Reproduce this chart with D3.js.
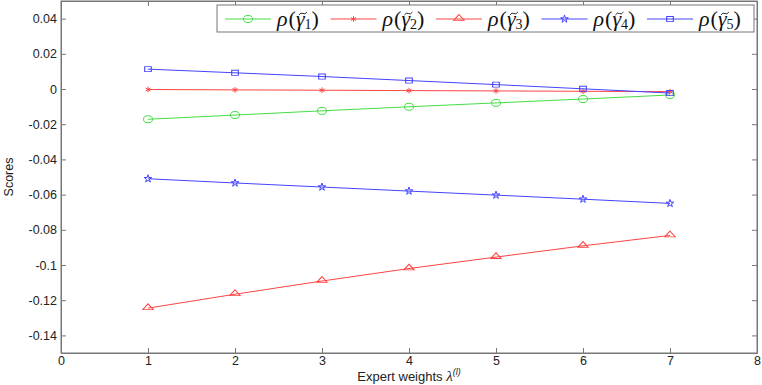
<!DOCTYPE html>
<html>
<head>
<meta charset="utf-8">
<script src="https://cdnjs.cloudflare.com/ajax/libs/d3/7.8.5/d3.min.js"></script>
<style>
  body { margin: 0; background: #fff; }
  svg { display: block; }
  .axis text { font-family: "Liberation Sans", Arial, sans-serif; font-size: 12.5px; fill: #222; }
  .axis path, .axis line { stroke: #777; }
</style>
</head>
<body>
<svg id="chart"></svg>
<script>
// expert weight index on the x axis
const weights = [1, 2, 3, 4, 5, 6, 7];

// scores, one array per alternative
const rho1 = [-0.0172, -0.0148, -0.0124, -0.0101, -0.0079, -0.0057, -0.0034];
const rho2 = [-0.0003, -0.0005, -0.0007, -0.0009, -0.0011, -0.0013, -0.0015];
const rho3 = [-0.1245, -0.1166, -0.1091, -0.1020, -0.0955, -0.0891, -0.0832];
const rho4 = [-0.0510, -0.0534, -0.0557, -0.0580, -0.0603, -0.0626, -0.0650];
const rho5 = [0.0113, 0.0092, 0.0071, 0.0048, 0.0025, 0.0001, -0.0023];

const seriesNames = ["1", "2", "3", "4", "5"];
const xTicks = [0, 1, 2, 3, 4, 5, 6, 7, 8];
const yTicks = [0.04, 0.02, 0, -0.02, -0.04, -0.06, -0.08, -0.1, -0.12, -0.14];

const config = {
    width: 762,
    height: 385,
    margin: {top: 1, right: 5, bottom: 32, left: 61}
};

const series = [
    {name: seriesNames[0], values: rho1, color: "#44dd44", marker: "circle"},
    {name: seriesNames[1], values: rho2, color: "#ff4444", marker: "asterisk"},
    {name: seriesNames[2], values: rho3, color: "#ff4444", marker: "triangle"},
    {name: seriesNames[3], values: rho4, color: "#4444ff", marker: "star"},
    {name: seriesNames[4], values: rho5, color: "#4444ff", marker: "square"}
];

const innerW = config.width - config.margin.left - config.margin.right;
const innerH = config.height - config.margin.top - config.margin.bottom;

const svg = d3.select("#chart")
    .attr("width", config.width)
    .attr("height", config.height);

const chart = svg.append("g")
    .attr("transform", `translate(${config.margin.left},${config.margin.top})`);

const xScale = d3.scaleLinear().domain([0, 8]).range([0, innerW]);
const yScale = d3.scaleLinear().domain([-0.15, 0.05]).range([innerH, 0]);

const fmt = d => String(+d.toFixed(2));

// axes, ticks pointing inward like matlab
chart.append("g").attr("class", "axis")
    .attr("transform", `translate(0,${innerH})`)
    .call(d3.axisBottom(xScale).tickValues(xTicks).tickSizeInner(-5).tickSizeOuter(0).tickPadding(3));
chart.append("g").attr("class", "axis")
    .call(d3.axisTop(xScale).tickValues(xTicks).tickSizeInner(-5).tickSizeOuter(0).tickFormat(""));
chart.append("g").attr("class", "axis")
    .call(d3.axisLeft(yScale).tickValues(yTicks).tickSizeInner(-5).tickSizeOuter(0).tickPadding(4).tickFormat(fmt));
chart.append("g").attr("class", "axis")
    .attr("transform", `translate(${innerW},0)`)
    .call(d3.axisRight(yScale).tickValues(yTicks).tickSizeInner(-5).tickSizeOuter(0).tickFormat(""));

chart.append("rect")
    .attr("width", innerW).attr("height", innerH)
    .attr("fill", "none").attr("stroke", "#777");

// marker drawing
function drawMarker(g, type, color) {
    if (type === "circle") {
        g.append("ellipse").attr("rx", 4.5).attr("ry", 3.5)
            .attr("fill", "none").attr("stroke", color).attr("stroke-width", 1);
        return;
    }
    const sym = {
        asterisk: [d3.symbolAsterisk, 22, null],
        triangle: [d3.symbolTriangle, 30, "translate(0,-0.5) scale(1.25,0.8)"],
        star: [d3.symbolStar, 18, null],
        square: [d3.symbolSquare, 36, "scale(1.1,0.85)"]
    }[type];
    g.append("path")
        .attr("d", d3.symbol(sym[0], sym[1])())
        .attr("transform", sym[2])
        .attr("fill", "none").attr("stroke", color).attr("stroke-width", 1);
}

const line = d3.line()
    .x((d, i) => xScale(weights[i]))
    .y(d => yScale(d));

series.forEach(s => {
    chart.append("path")
        .datum(s.values)
        .attr("d", line)
        .attr("fill", "none")
        .attr("stroke", s.color)
        .attr("stroke-width", 1);
    chart.selectAll(null)
        .data(s.values)
        .join("g")
        .attr("transform", (d, i) => `translate(${xScale(weights[i])},${yScale(d)})`)
        .each(function() { drawMarker(d3.select(this), s.marker, s.color); });
});

// axis titles
svg.append("text")
    .attr("transform", `translate(13,${config.margin.top + innerH / 2}) rotate(-90)`)
    .attr("text-anchor", "middle")
    .style("font-family", "Liberation Sans, Arial, sans-serif")
    .style("font-size", "12.5px")
    .attr("fill", "#222")
    .text("Scores");

const xTitle = svg.append("text")
    .attr("x", config.margin.left + innerW / 2)
    .attr("y", 381)
    .attr("text-anchor", "middle")
    .style("font-family", "Liberation Sans, Arial, sans-serif")
    .style("font-size", "13px")
    .attr("fill", "#222");
xTitle.append("tspan").text("Expert weights ");
xTitle.append("tspan").style("font-family", "Liberation Serif, serif").style("font-style", "italic").style("font-size", "15px").text("\u03bb");
xTitle.append("tspan").attr("dy", -6).style("font-size", "9px").style("font-style", "italic").text("(l)");

// legend
const legend = svg.append("g").attr("transform", "translate(217,5)");
legend.append("rect")
    .attr("width", 537).attr("height", 27)
    .attr("fill", "#fff").attr("stroke", "#777");

const serif = "Liberation Serif, DejaVu Serif, serif";
function piece(g, x, y, txt, size, italic) {
    const t = g.append("text")
        .attr("x", x).attr("y", y)
        .style("font-family", serif)
        .style("font-size", size + "px")
        .style("font-style", italic ? "italic" : "normal")
        .attr("fill", "#111")
        .text(txt);
    return x + t.node().getComputedTextLength();
}

const entryW = 105.5;
series.forEach((s, i) => {
    const e = legend.append("g").attr("transform", `translate(${8 + i * entryW},14)`);
    e.append("line").attr("x1", 0).attr("x2", 46)
        .attr("stroke", s.color).attr("stroke-width", 1);
    const m = e.append("g").attr("transform", "translate(23,0)");
    drawMarker(m, s.marker, s.color);
    let x = 52;
    x = piece(e, x, 7, "\u03c1", 22, true);
    x = piece(e, x + 1, 7, "(", 22, false);
    const gx = x;
    x = piece(e, x, 7, "\u03b3", 22, true);
    // tilde accent over gamma
    e.append("path")
        .attr("d", `M${gx + 3},-4 q2,-3 4,-1.5 t4,-1.5`)
        .attr("fill", "none").attr("stroke", "#111").attr("stroke-width", 0.9);
    x = piece(e, x, 10, s.name, 14, false);
    piece(e, x, 7, ")", 22, false);
});
</script>
</body>
</html>
